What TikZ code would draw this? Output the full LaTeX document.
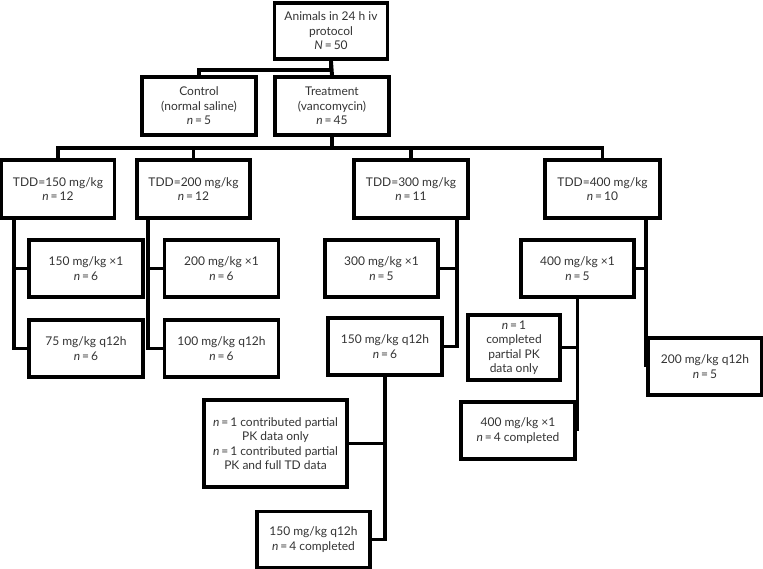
\documentclass[tikz,border=0pt]{standalone}
\usepackage{fontspec}
\setmainfont{Lato}
\definecolor{txt}{HTML}{333333}
\tikzset{
  bx/.style 2 args={draw=black, line width=3.9pt, text=txt, align=center, inner sep=0pt,
    minimum width=#1, minimum height=#2, font=\fontsize{12}{14.5}\selectfont},
  ln/.style={draw=black, line width=3.9pt, line join=miter}
}
\newcommand{\nn}{\textit{n}\,=\,}
\begin{document}
\begin{tikzpicture}[x=1pt,y=-1pt]
\useasboundingbox (0,0) rectangle (763,569);
% boxes
\node[bx={113pt}{56pt}] (top) at (331,31) {Animals in 24 h iv\\protocol\\\textit{N}\,=\,50};
\node[bx={114pt}{58pt}] (ctrl) at (199,106) {Control\\(normal saline)\\\nn 5};
\node[bx={114pt}{58pt}] (trt) at (332,106) {Treatment\\(vancomycin)\\\nn 45};
\node[bx={113pt}{58pt}] (t150) at (58,189) {TDD=150 mg/kg\\\nn 12};
\node[bx={113pt}{58pt}] (t200) at (193.5,189) {TDD=200 mg/kg\\\nn 12};
\node[bx={114pt}{58pt}] (t300) at (411,189) {TDD=300 mg/kg\\\nn 11};
\node[bx={115pt}{58pt}] (t400) at (602.5,189) {TDD=400 mg/kg\\\nn 10};
\node[bx={114pt}{57pt}] (a150) at (86,268.5) {150 mg/kg ×1\\\nn 6};
\node[bx={114pt}{57pt}] (a75) at (86,348.5) {75 mg/kg q12h\\\nn 6};
\node[bx={114pt}{57pt}] (a200) at (221.5,268.5) {200 mg/kg ×1\\\nn 6};
\node[bx={114pt}{57pt}] (a100) at (221.5,348.5) {100 mg/kg q12h\\\nn 6};
\node[bx={113pt}{57pt}] (a300) at (381.5,268.5) {300 mg/kg ×1\\\nn 5};
\node[bx={114pt}{57pt}] (a150q) at (385,346.5) {150 mg/kg q12h\\\nn 6};
\node[bx={113pt}{57pt}] (a400) at (577.5,268.5) {400 mg/kg ×1\\\nn 5};
\node[bx={92pt}{65pt}] (n1c) at (514,347.5) {\nn 1\\completed\\partial PK\\data only};
\node[bx={114pt}{57pt}] (a400c) at (518,430.5) {400 mg/kg ×1\\\nn 4 completed};
\node[bx={114pt}{57pt}] (a200q) at (705,366.5) {200 mg/kg q12h\\\nn 5};
\node[bx={143pt}{87pt}] (contrib) at (275.5,443.5) {\nn 1 contributed partial\\PK data only\\\nn 1 contributed partial\\PK and full TD data};
\node[bx={113pt}{56pt}] (a150c) at (313.5,539.5) {150 mg/kg q12h\\\nn 4 completed};
% coordinates
\coordinate (busL) at (58,148);
\coordinate (busR) at (602.5,148);
\coordinate (s150) at (14,0);
\coordinate (s200) at (148,0);
\coordinate (s300) at (457,0);
% connectors
\draw[ln] (top.south) -- ++(0,9) -| (ctrl.north);
\draw[ln] (top.south) -- (trt.north);
\draw[ln] (t150.north) -- (busL) -- (busR) -- (t400.north);
\draw[ln] (trt.south) -- (trt.south |- busL);
\draw[ln] (t200.north) -- (t200.north |- busL);
\draw[ln] (t300.north) -- (t300.north |- busL);
\draw[ln] (s150 |- t150.south) |- (a75.west);
\draw[ln] (s150 |- a150.west) -- (a150.west);
\draw[ln] (s200 |- t200.south) |- (a100.west);
\draw[ln] (s200 |- a200.west) -- (a200.west);
\draw[ln] (s300 |- t300.south) |- (a150q.east);
\draw[ln] (s300 |- a300.east) -- (a300.east);
\draw[ln] (t400.south -| a200q.west) -- (a200q.west);
\draw[ln] (a200q.west |- a400.east) -- (a400.east);
\draw[ln] (a400.south) -- (a400.south |- a400c.east);
\draw[ln] (a400.south |- n1c.east) -- (n1c.east);
\draw[ln] (a150q.south) |- (a150c.east);
\draw[ln] (a150q.south |- contrib.east) -- (contrib.east);
\end{tikzpicture}
\end{document}
